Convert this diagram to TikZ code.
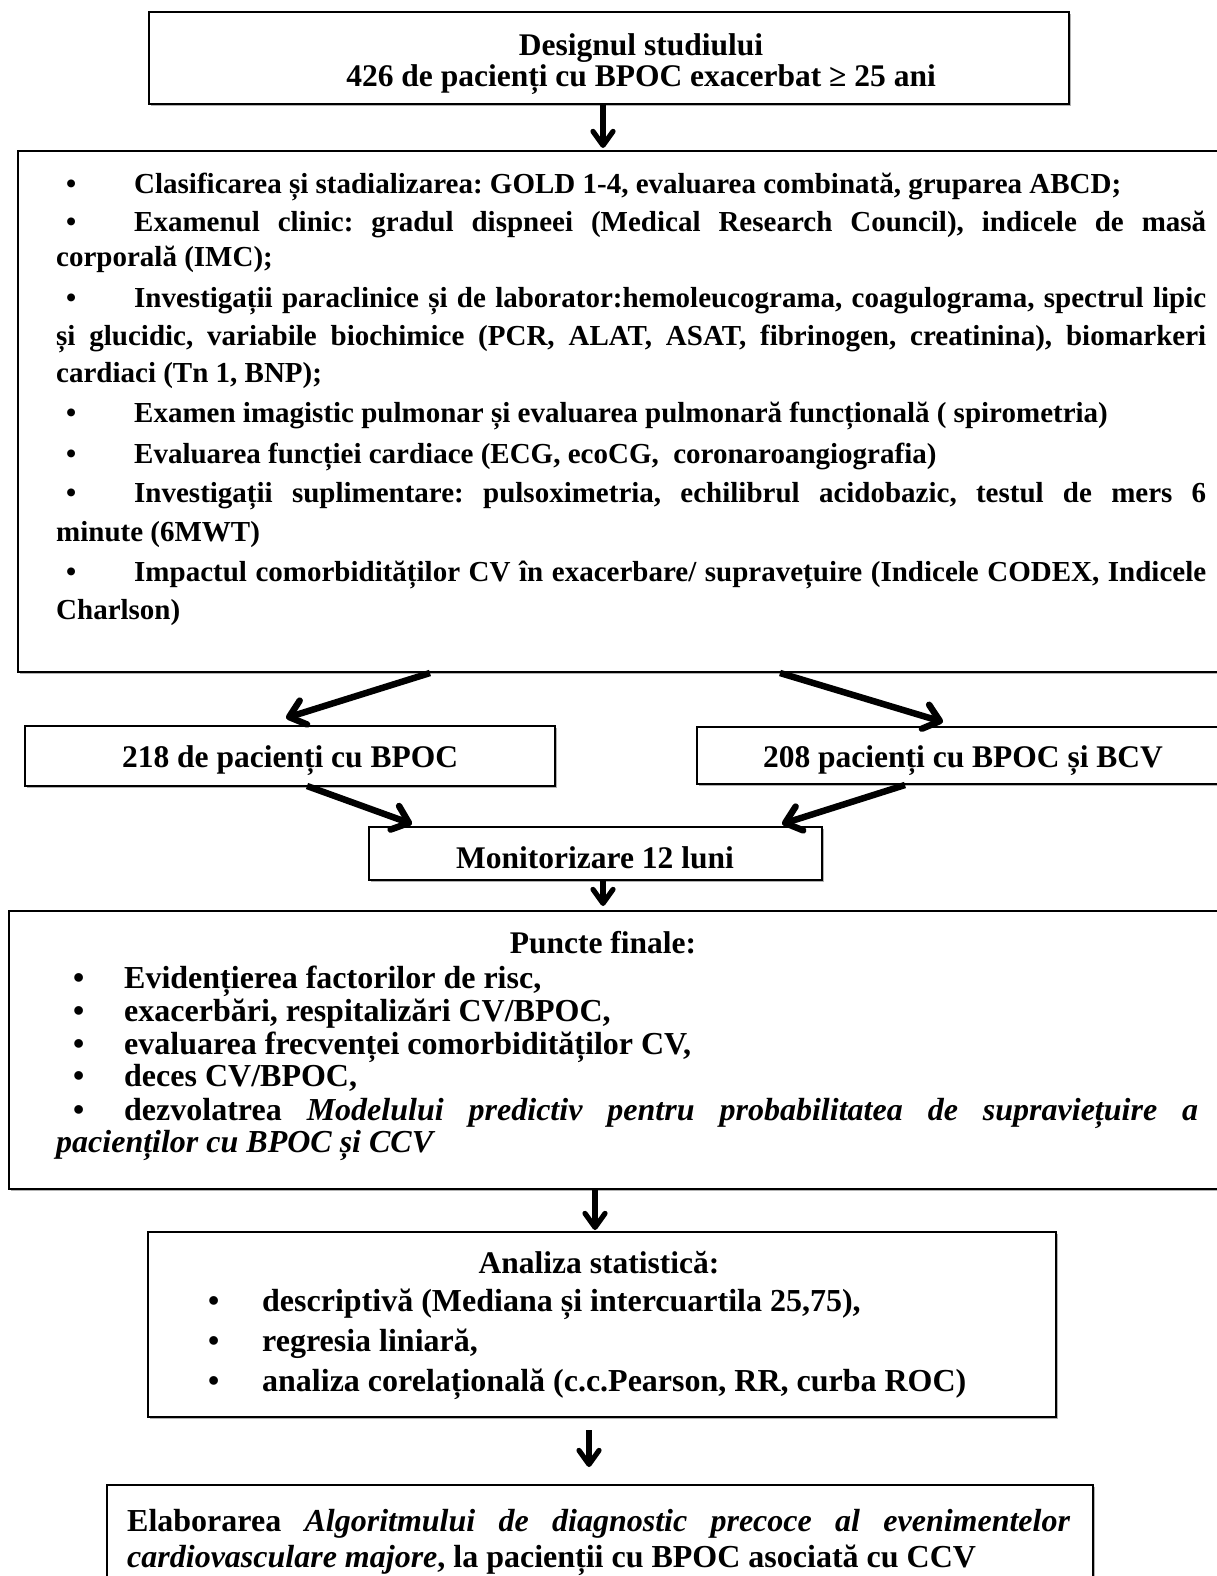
\documentclass[tikz,border=0pt]{standalone}
\usepackage{fontspec}
\setmainfont{Liberation Serif}
\usetikzlibrary{arrows.meta,shadows}
\begin{document}
\frenchspacing
\begin{tikzpicture}[x=1pt,y=-1pt,
  box/.style={draw, line width=1.5pt, fill=white, inner sep=0pt,
    drop shadow={shadow xshift=2pt,shadow yshift=-2pt,fill=black!50,opacity=0.6}},
  ta/.style={inner sep=0pt, anchor=base west, font=\fontsize{29}{34}\selectfont\bfseries},
  tb/.style={inner sep=0pt, anchor=base west, font=\fontsize{32}{36}\selectfont\bfseries},
  tc/.style={inner sep=0pt, anchor=base, font=\fontsize{31.5}{36}\selectfont\bfseries},
  arr/.style={line width=5.2pt, -{Straight Barb[length=14pt,width=20pt,round]}},
  darr/.style={line width=6.5pt, -{Straight Barb[length=15pt,width=25pt,round]}}]
\useasboundingbox (0,0) rectangle (1216,1576);
\fill[white] (0,0) rectangle (1216,1576);

% boxes
\node[box, minimum width=920pt, minimum height=92pt] (b1) at (609,58) {};
\node[box, minimum width=1210pt, minimum height=521pt] (b2) at (623,411.5) {};
\node[box, minimum width=530pt, minimum height=60pt] (b3l) at (290,756) {};
\node[box, minimum width=528pt, minimum height=57pt] (b3r) at (961,755.5) {};
\node[box, minimum width=453pt, minimum height=53pt] (b4) at (595.5,853.5) {};
\node[box, minimum width=1216pt, minimum height=278pt] (b5) at (617,1050) {};
\node[box, minimum width=908pt, minimum height=185pt] (b6) at (602,1324.5) {};
\node[box, minimum width=986pt, minimum height=100pt] (b7) at (600,1535) {};

% box 1
\node[tc] (t1a) at (641,56) {Designul studiului};
\node[tc] (t1b) at (641,87) {426 de pacienți cu BPOC exacerbat ≥ 25 ani};

% box 2
\node[ta] (p1b) at (66,193) {•};
\node[ta] (p1) at (134,193) {Clasificarea și stadializarea: GOLD 1-4, evaluarea combinată, gruparea ABCD;};
\node[ta] (p2b) at (66,231) {•};
\node[ta] (p2) at (134,231) {\makebox[1072pt][s]{Examenul clinic: gradul dispneei (Medical Research Council), indicele de masă}};
\node[ta] (p3) at (56,266) {corporală (IMC);};
\node[ta] (p4b) at (66,307) {•};
\node[ta] (p4) at (134,307) {\makebox[1072pt][s]{Investigații paraclinice și de laborator:hemoleucograma, coagulograma, spectrul lipic}};
\node[ta] (p5) at (56,345) {\makebox[1150pt][s]{și glucidic, variabile biochimice (PCR, ALAT, ASAT, fibrinogen, creatinina), biomarkeri}};
\node[ta] (p6) at (56,382) {cardiaci (Tn 1, BNP);};
\node[ta] (p7b) at (66,422) {•};
\node[ta] (p7) at (134,422) {Examen imagistic pulmonar și evaluarea pulmonară funcțională ( spirometria)};
\node[ta] (p8b) at (66,463) {•};
\node[ta] (p8) at (134,463) {Evaluarea funcției cardiace (ECG, ecoCG, \ coronaroangiografia)};
\node[ta] (p9b) at (66,502) {•};
\node[ta] (p9) at (134,502) {\makebox[1072pt][s]{Investigații suplimentare: pulsoximetria, echilibrul acidobazic, testul de mers 6}};
\node[ta] (p10) at (56,541) {minute (6MWT)};
\node[ta] (p11b) at (66,581) {•};
\node[ta] (p11) at (134,581) {\makebox[1072pt][s]{Impactul comorbidităților CV în exacerbare/ supravețuire (Indicele CODEX, Indicele}};
\node[ta] (p12) at (56,619) {Charlson)};

% box 3
\node[tc] (t3l) at (290,767) {218 de pacienți cu BPOC};
\node[tc] (t3r) at (963,767) {208 pacienți cu BPOC și BCV};
% box 4
\node[tc] (t4) at (595,868) {Monitorizare 12 luni};

% box 5
\node[tc] (t5) at (603,953) {Puncte finale:};
\node[tb] (q1b) at (73,988) {•};
\node[tb] (q1) at (124,988) {Evidențierea factorilor de risc,};
\node[tb] (q2b) at (73,1021) {•};
\node[tb] (q2) at (124,1021) {exacerbări, respitalizări CV/BPOC,};
\node[tb] (q3b) at (73,1054) {•};
\node[tb] (q3) at (124,1054) {evaluarea frecvenței comorbidităților CV,};
\node[tb] (q4b) at (73,1086) {•};
\node[tb] (q4) at (124,1086) {deces CV/BPOC,};
\node[tb] (q5b) at (73,1120) {•};
\node[tb] (q5) at (124,1120) {\makebox[1074pt][s]{dezvolatrea \textit{Modelului predictiv pentru probabilitatea de supraviețuire a}}};
\node[tb] (q6) at (56,1152) {\textit{pacienților cu BPOC și CCV}};

% box 6
\node[tc] (t6) at (599,1273) {Analiza statistică:};
\node[tb] (r1b) at (208,1311) {•};
\node[tb] (r1) at (262,1311) {descriptivă (Mediana și intercuartila 25,75),};
\node[tb] (r2b) at (208,1351) {•};
\node[tb] (r2) at (262,1351) {regresia liniară,};
\node[tb] (r3b) at (208,1391) {•};
\node[tb] (r3) at (262,1391) {analiza corelațională (c.c.Pearson, RR, curba ROC)};

% box 7
\node[tb] (s1) at (127,1531) {\makebox[943pt][s]{Elaborarea \textit{Algoritmului de diagnostic precoce al evenimentelor}}};
\node[tb] (s2) at (127,1567) {\textit{cardiovasculare majore}, la pacienții cu BPOC asociată cu CCV};

% connector end points
\coordinate (c1s) at (603,104);  \coordinate (c1e) at (603,148);
\coordinate (c2s) at (430,673);  \coordinate (c2e) at (286,718);
\coordinate (c3s) at (780,673);  \coordinate (c3e) at (943,722);
\coordinate (c4s) at (307,786);  \coordinate (c4e) at (412,824);
\coordinate (c5s) at (905,785);  \coordinate (c5e) at (782,824);
\coordinate (c6s) at (603,881);  \coordinate (c6e) at (603,906);
\coordinate (c7s) at (595,1188); \coordinate (c7e) at (595,1230);
\coordinate (c8s) at (589,1430); \coordinate (c8e) at (589,1467);

\draw[arr] (c1s) -- (c1e);
\draw[darr] (c2s) -- (c2e);
\draw[darr] (c3s) -- (c3e);
\draw[darr] (c4s) -- (c4e);
\draw[darr] (c5s) -- (c5e);
\draw[arr] (c6s) -- (c6e);
\draw[arr] (c7s) -- (c7e);
\draw[arr] (c8s) -- (c8e);
\end{tikzpicture}
\end{document}
